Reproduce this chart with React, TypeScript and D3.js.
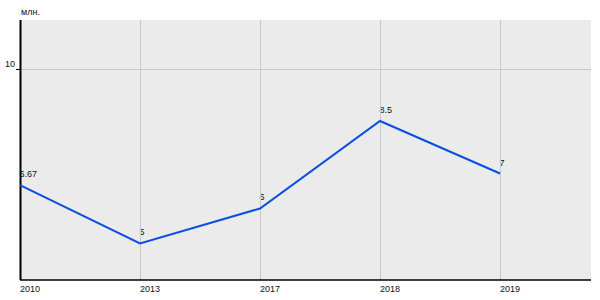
import React from "react";
import * as d3 from "d3";

const categories = ["2010", "2013", "2017", "2018", "2019"];
const values = [6.67, 5, 6, 8.5, 7];
const labels = ["6.67", "5", "6", "8.5", "7"];
const yTicks = [10];
const unitLabel = "млн.";

export default function App() {
  const W = 600, H = 300;
  const left = 20, right = 591, top = 20, bottom = 280;
  const x = d3.scalePoint<string>().domain(categories).range([left, 500]);
  const y = d3.scaleLinear().domain([3.957, 11.386]).range([bottom, top]);
  const line = d3
    .line<number>()
    .x((_, i) => x(categories[i]) as number)
    .y((d) => y(d));
  const font = "'Liberation Sans', Arial, sans-serif";
  return (
    <svg
      width={W}
      height={H}
      style={{ position: "absolute", left: 0, top: 0 }}
      fontFamily={font}
    >
      <rect x={0} y={0} width={W} height={H} fill="#fff" />
      <rect x={left} y={top} width={right - left} height={bottom - top} fill="#ebebeb" />
      {values.map((v, i) => (
        <text key={"dl" + i} x={(x(categories[i]) as number) - 0.5} y={y(v) - 8} fontSize={9} fill="#111">
          {labels[i]}
        </text>
      ))}
      {categories.map((c) => (
        <line
          key={"g" + c}
          x1={(x(c) as number) + 0.5}
          x2={(x(c) as number) + 0.5}
          y1={top}
          y2={bottom}
          stroke="#c8c8c8"
          strokeWidth={1}
        />
      ))}
      {yTicks.map((t) => (
        <g key={"yt" + t}>
          <line x1={left} x2={right} y1={Math.round(y(t)) + 0.5} y2={Math.round(y(t)) + 0.5} stroke="#c8c8c8" />
          <line x1={left - 4} x2={left} y1={Math.round(y(t)) + 0.5} y2={Math.round(y(t)) + 0.5} stroke="#000" />
          <text x={left - 5} y={y(t) - 1.5} textAnchor="end" fontSize={9} fill="#111">
            {t}
          </text>
        </g>
      ))}
      <line x1={left + 0.5} x2={left + 0.5} y1={top} y2={bottom} stroke="#000" strokeWidth={2} />
      <line x1={left} x2={right} y1={bottom} y2={bottom} stroke="#000" strokeWidth={1.5} />
      <text x={left + 1} y={15} fontSize={9} fill="#111">
        {unitLabel}
      </text>
      {categories.map((c) => (
        <text key={"xl" + c} x={x(c)} y={292} fontSize={9} fill="#111">
          {c}
        </text>
      ))}
      <path d={line(values) || ""} fill="none" stroke="#0a4fe0" strokeWidth={2} />
    </svg>
  );
}
